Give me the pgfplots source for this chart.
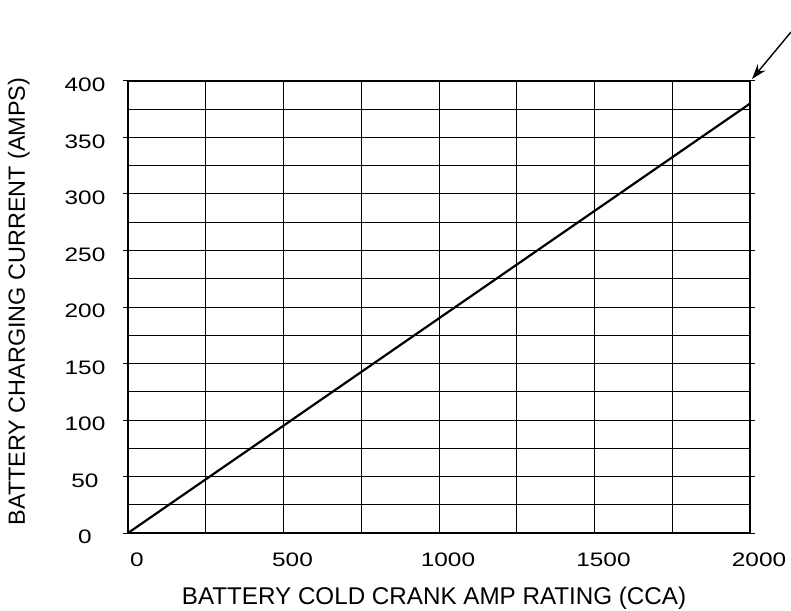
\documentclass[border=0pt]{standalone}
\usepackage{fontspec}
\setmainfont{Liberation Sans}
\usepackage{pgfplots}
\pgfplotsset{compat=1.18}
\usetikzlibrary{arrows.meta}
\begin{document}
\begin{tikzpicture}
\path[use as bounding box] (-128pt,-77pt) rectangle (663pt,533pt);
\begin{axis}[
  at={(0pt,0pt)}, anchor=south west,
  scale only axis, width=622pt, height=452pt,
  xmin=0, xmax=2000, ymin=0, ymax=400,
  xtick={0,500,1000,1500,2000},
  ytick={0,50,100,150,200,250,300,350,400},
  minor x tick num=1, minor y tick num=1,
  grid=both,
  major grid style={black, line width=1.0pt},
  minor grid style={black, line width=1.0pt},
  axis line style={black, line width=1.7pt},
  every tick/.style={black, line width=1.0pt},
  xtick style={draw=none},
  minor tick length=0pt,
  major tick length=5pt,
  ytick align=outside,
  /pgf/number format/assume math mode=true,
  /pgf/number format/set thousands separator={},
  yticklabel style={anchor=center, xshift=-38pt, yshift=-4pt, font=\fontsize{19.5}{20}\selectfont, xscale=1.25},
  xticklabel style={anchor=center, xshift=9pt, yshift=-27pt, font=\fontsize{19.5}{20}\selectfont, xscale=1.25},
  xlabel={BATTERY COLD CRANK AMP RATING (CCA)},
  ylabel={BATTERY CHARGING CURRENT (AMPS)},
  xlabel style={at={(axis description cs:0.492,-0.159)}, anchor=base, font=\fontsize{24.2}{25}\selectfont},
  ylabel style={at={(axis description cs:-0.1656,0.512)}, anchor=base, rotate=0, font=\fontsize{23.4}{24}\selectfont},
  clip=false,
]
\addplot[black, line width=2.2pt] coordinates {(0,0) (2000,380)};
\end{axis}
\draw[black, line width=1.4pt, -{Stealth[length=15pt,width=10pt]}] (663pt,501pt) -- (624pt,454pt);
\end{tikzpicture}
\end{document}
